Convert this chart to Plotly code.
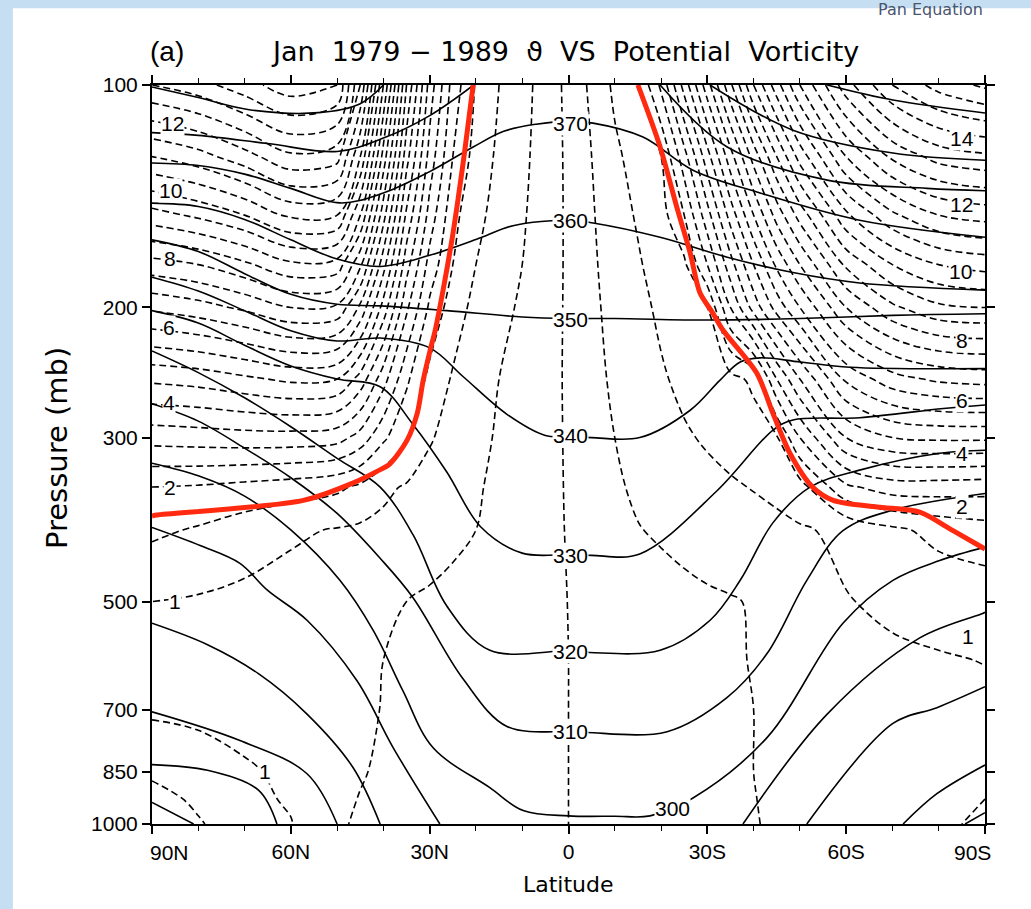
import math
import plotly.graph_objects as go

# ---------------- PV grid (PVU, SH negative) ----------------
PV_LAT = [90, 80, 70, 60, 50, 45, 40, 35, 30, 25, 20, 15, 10, 5,
          -5, -10, -15, -20, -25, -30, -35, -40, -45, -50, -60, -70, -80, -90]
PV_P = [1000, 925, 850, 700, 600, 500, 400, 350, 300, 250, 200, 175, 150, 125, 100]

PV_1000 = [2.0, 1.55, 1.2, 1.02, 0.53, 0.47, 0.42, 0.36, 0.3, 0.24, 0.19, 0.14, 0.09, 0.05,
           -0.05, -0.09, -0.14, -0.19, -0.24, -0.3, -0.38, -0.48, -0.55, -0.6, -0.7, -0.8, -0.9, -1.1]
PV_925 = [1.7, 1.4, 1.12, 0.95, 0.56, 0.49, 0.44, 0.38, 0.31, 0.25, 0.2, 0.15, 0.1, 0.05,
          -0.05, -0.1, -0.15, -0.2, -0.25, -0.31, -0.4, -0.49, -0.56, -0.61, -0.71, -0.8, -0.9, -1.0]
PV_850 = [1.4, 1.2, 1.05, 0.92, 0.6, 0.52, 0.46, 0.4, 0.33, 0.27, 0.22, 0.16, 0.1, 0.05,
          -0.05, -0.1, -0.16, -0.22, -0.27, -0.33, -0.42, -0.5, -0.57, -0.62, -0.72, -0.8, -0.85, -0.92]
PV_700 = [0.92, 0.9, 0.84, 0.76, 0.62, 0.55, 0.49, 0.43, 0.36, 0.3, 0.24, 0.18, 0.12, 0.06,
          -0.06, -0.12, -0.18, -0.24, -0.3, -0.36, -0.43, -0.5, -0.58, -0.64, -0.75, -0.82, -0.87, -0.92]
PV_600 = [0.88, 0.86, 0.82, 0.76, 0.64, 0.56, 0.5, 0.44, 0.38, 0.32, 0.26, 0.2, 0.13, 0.07,
          -0.07, -0.13, -0.2, -0.26, -0.32, -0.38, -0.45, -0.52, -0.62, -0.72, -0.85, -0.93, -0.97, -1.01]
PV_500 = [1.0, 0.95, 0.88, 0.82, 0.74, 0.66, 0.57, 0.5, 0.44, 0.38, 0.31, 0.24, 0.17, 0.09,
          -0.1, -0.18, -0.25, -0.32, -0.38, -0.43, -0.47, -0.53, -0.65, -0.8, -0.98, -1.08, -1.15, -1.2]
PV_400 = [1.6, 1.45, 1.25, 1.07, 0.97, 0.92, 0.88, 0.8, 0.7, 0.6, 0.5, 0.38, 0.27, 0.14,
          -0.2, -0.36, -0.48, -0.56, -0.64, -0.72, -0.78, -0.84, -0.9, -0.95, -1.1, -1.4, -1.65, -1.8]
PV_350 = [2.0, 1.95, 1.85, 1.75, 1.6, 1.4, 1.1, 0.95, 0.8, 0.66, 0.54, 0.42, 0.3, 0.16,
          -0.25, -0.43, -0.58, -0.7, -0.8, -0.88, -0.95, -1.02, -1.1, -1.3, -2.4, -2.75, -2.75, -2.7]
PV_300 = [3.2, 3.25, 3.3, 3.3, 3.2, 2.8, 2.1, 1.55, 1.05, 0.8, 0.62, 0.45, 0.32, 0.18,
          -0.3, -0.5, -0.68, -0.82, -0.95, -1.05, -1.15, -1.28, -1.45, -2.5, -4.0, -4.5, -4.6, -4.6]
PV_250 = [4.6, 4.7, 4.9, 5.1, 5.0, 4.3, 3.2, 2.1, 1.35, 0.95, 0.7, 0.5, 0.38, 0.2,
          -0.35, -0.58, -0.78, -0.95, -1.1, -1.22, -1.35, -1.6, -3.0, -4.0, -5.6, -6.3, -6.6, -6.7]
PV_200 = [6.6, 6.8, 7.1, 7.5, 7.4, 6.4, 4.8, 3.1, 1.9, 1.25, 0.85, 0.6, 0.45, 0.24,
          -0.4, -0.65, -0.88, -1.08, -1.27, -1.5, -3.0, -4.2, -5.2, -6.0, -7.5, -8.4, -8.9, -9.0]
PV_175 = [7.8, 8.0, 8.4, 8.9, 8.8, 7.6, 5.7, 3.7, 2.3, 1.5, 1.0, 0.7, 0.5, 0.26,
          -0.42, -0.72, -0.95, -1.2, -1.4, -2.5, -3.8, -5.0, -6.1, -7.0, -8.6, -9.5, -10.0, -10.2]
PV_150 = [9.3, 9.6, 10.0, 10.6, 10.5, 9.0, 6.7, 4.4, 2.8, 1.65, 1.15, 0.8, 0.55, 0.28,
          -0.45, -0.8, -1.05, -1.3, -2.0, -3.3, -4.7, -6.0, -7.2, -8.2, -9.9, -10.9, -11.5, -11.7]
PV_125 = [11.0, 11.3, 11.8, 12.4, 12.2, 10.5, 7.8, 5.2, 3.3, 2.0, 1.3, 0.9, 0.6, 0.3,
          -0.5, -0.9, -1.2, -1.5, -2.8, -4.3, -5.8, -7.2, -8.5, -9.7, -11.5, -12.6, -13.2, -13.4]
PV_100 = [13.0, 13.3, 13.8, 14.3, 14.0, 12.0, 9.0, 6.0, 3.8, 2.3, 1.45, 1.0, 0.65, 0.32,
          -0.6, -1.1, -1.5, -2.6, -4.2, -5.8, -7.4, -9.0, -10.3, -11.5, -13.3, -14.5, -15.2, -15.6]

# ---------------- Potential temperature contours (lat, p) ----------------
TH250_LAT = [90, 81];  TH250_P = [935, 1000]
TH260_LAT = [90, 78, 67, 63];  TH260_P = [831, 846, 900, 1000]
TH270_LAT = [90, 71, 56.5, 50];  TH270_P = [705, 771, 855, 1000]
TH280_LAT = [90, 78, 67, 56.5, 46.6, 40.7];  TH280_P = [535, 572, 626, 710, 838, 1000]
TH290_LAT = [90, 79.6, 71, 65, 56.5, 45.7, 37.9, 27.8];  TH290_P = [397, 420, 444, 483, 530, 640, 788, 1000]
TH300_LAT = [90, 80, 70, 60, 49.4, 42.2, 35.8, 29.3, 17, 9.8, 0, -10, -17.6, -26.9, -42.9, -59.3, -70.1, -80.2, -90]
TH300_P = [325, 338, 360, 400, 468, 547, 660, 788, 893, 959, 975, 976, 975, 922, 764, 535, 468, 440, 422]
TH310_LAT = [90, 80, 70, 60, 50, 40.7, 33.6, 22.8, 13.3, 0, -4, -21.3, -34.3, -42.9, -51.5, -59.3, -70.1, -90]
TH310_P = [270, 285, 310, 340, 380, 437, 494, 636, 738, 750, 752, 750, 674, 588, 468, 401, 376, 357]
TH320_LAT = [90, 80, 70, 60, 50, 40.7, 33.6, 26.3, 17, 0, -4.6, -19.8, -30.6, -37.1, -44.2, -52.2, -62.9, -80.2, -90]
TH320_P = [229, 245, 265, 290, 320, 350, 406, 507, 582, 583, 586, 582, 530, 468, 391, 350, 332, 315, 312]
TH330_LAT = [90, 80, 70, 60, 50, 40.7, 33.6, 26.3, 19, 10, 0, -5, -15.4, -32.1, -44.2, -48.5, -62.9, -81, -90]
TH330_P = [202, 210, 225, 240, 250, 256, 288, 334, 396, 430, 432, 433, 431, 354, 293, 284, 282, 274, 271]
TH340_LAT = [90, 80, 70, 60, 50, 40.7, 29.9, 22.8, 13.3, 5, 0, -5, -15.4, -26.3, -32.7, -37.1, -41.4, -50, -60.8, -90]
TH340_P = [182, 190, 202, 215, 222, 220, 227, 248, 279, 298, 299, 300, 300, 275.5, 251, 237, 234, 237, 241, 242]
TH350_LAT = [90, 80, 70, 60, 50, 40.7, 26.3, 10, 0, -10, -30, -50, -70, -90]
TH350_P = [162, 168, 180, 192, 198, 199, 202, 206, 207, 207, 208, 207, 205, 204]
TH360_LAT = [90, 80, 70, 60, 50, 40.7, 30, 19, 12, 0, -5.3, -19.8, -34.3, -48.5, -62.9, -90]
TH360_P = [144.5, 146, 152, 162, 172, 176, 170, 161, 155, 152.4, 153.7, 160.7, 171, 179.4, 185.3, 189.5]
TH370_LAT = [90, 80, 70, 60, 49.4, 40, 30, 20.6, 14, 7, 0, -5.3, -16.1, -26.9, -41.4, -62.9, -90]
TH370_P = [127.5, 128.5, 132, 138, 144.4, 140, 131, 121.3, 115.5, 113, 112, 112.6, 117.6, 130.4, 140, 152.4, 160.7]
TH380N_LAT = [90, 80, 65, 50, 40, 30, 20.5];  TH380N_P = [116, 117, 120, 123, 118, 110, 100]
TH380S_LAT = [-19.8, -34.3, -55.9, -77.5, -90];  TH380S_P = [100, 121.3, 134.5, 138, 139]
TH390N_LAT = [90, 80, 69, 54, 45, 40];  TH390N_P = [100.6, 104, 108, 109, 106, 100]
TH390S_LAT = [-30.6, -48.5, -70.1, -90];  TH390S_P = [100, 115.1, 123.6, 126.4]
TH400S_LAT = [-55.9, -70.1, -90];  TH400S_P = [100, 104.8, 109.1]
TH290S_LAT = [-37.7, -55.9, -75.9, -89.5, -90];  TH290S_P = [1000, 710, 560, 519, 517]
TH280S_LAT = [-51.5, -70.1, -79.6, -90];  TH280S_P = [1000, 731, 696, 652]
TH270S_LAT = [-72.3, -79.6, -90];  TH270S_P = [1000, 910, 832]
TH260S_LAT = [-85.7, -90];  TH260S_P = [1000, 965]

# labels of theta at the equator
TH_LABELS = ["370", "360", "350", "340", "330", "320", "310", "300"]
TH_LABEL_LAT = [-0.5, -0.5, -0.5, -0.5, -0.5, -0.5, -0.5, -22.4]
TH_LABEL_P = [112.6, 152.4, 207.5, 298.5, 433, 583.7, 750, 954]

# PV labels
PVN_LABELS = ["12", "10", "8", "6", "4", "2", "1", "1"]
PVN_LABEL_LAT = [85.5, 86, 86.1, 86.3, 86.3, 86.1, 85, 65.6]
PVN_LABEL_P = [112.6, 138.8, 171.5, 213, 269, 350, 500, 850]
PVS_LABELS = ["14", "12", "10", "8", "6", "4", "2", "1"]
PVS_LABEL_LAT = [-85, -85, -84.6, -85, -85, -85, -85, -86.3]
PVS_LABEL_P = [118, 145, 179, 222, 267, 315, 372, 558]

# tropopause (red line)
TROP_LAT = [90, 88.9, 57.3, 46.6, 41.4, 38.6, 34.9, 32.7, 31.4, 29.9, 28.8, 27.1, 25.2, 23.9, 22.4, 20.6]
TROP_P = [383, 381.9, 364.8, 345.6, 333.3, 325.5, 302.6, 278.4, 250.9, 228.5, 214.7, 189.5, 162.2, 143.2, 122.5, 100]
TROPS_LAT = [-15, -19.8, -23.4, -26.3, -28.4, -31.2, -33.4, -40.7, -44.2, -47.9, -52.8, -57.2, -66.7, -75.9, -83, -90]
TROPS_P = [100, 121.3, 146.3, 168.9, 191.1, 203.6, 214.7, 245.5, 278.4, 315.5, 350.3, 364.8, 372.5, 378.4, 400.6, 424.5]

X_MAJOR = [90, 60, 30, 0, -30, -60, -90]
X_MAJOR_TEXT = ["", "60N", "30N", "0", "30S", "60S", ""]
X_END_TEXT = ["90N", "90S"]
X_END_POS = [90, -90]
X_MINOR = [80, 70, 50, 40, 20, 10, -10, -20, -40, -50, -70, -80]
Y_TICKS = [100, 200, 300, 500, 700, 850, 1000]

fig = go.Figure()

fig.add_trace(go.Contour(
    x=PV_LAT, y=PV_P,
    z=[PV_1000, PV_925, PV_850, PV_700, PV_600, PV_500, PV_400, PV_350,
       PV_300, PV_250, PV_200, PV_175, PV_150, PV_125, PV_100],
    contours=dict(start=-16, end=16, size=0.5, coloring="lines", showlabels=False),
    colorscale=[[0, "black"], [1, "black"]],
    showscale=False,
    line=dict(width=1.6, dash="7px,4px", smoothing=1.0),
    hoverinfo="skip",
))

theta_lines = [
    (TH250_LAT, TH250_P), (TH260_LAT, TH260_P), (TH270_LAT, TH270_P), (TH280_LAT, TH280_P),
    (TH290_LAT, TH290_P), (TH300_LAT, TH300_P), (TH310_LAT, TH310_P), (TH320_LAT, TH320_P),
    (TH330_LAT, TH330_P), (TH340_LAT, TH340_P), (TH350_LAT, TH350_P), (TH360_LAT, TH360_P),
    (TH370_LAT, TH370_P), (TH380N_LAT, TH380N_P), (TH380S_LAT, TH380S_P),
    (TH390N_LAT, TH390N_P), (TH390S_LAT, TH390S_P), (TH400S_LAT, TH400S_P),
    (TH290S_LAT, TH290S_P), (TH280S_LAT, TH280S_P), (TH270S_LAT, TH270S_P), (TH260S_LAT, TH260S_P),
]
for la, pp in theta_lines:
    fig.add_trace(go.Scatter(x=la, y=pp, mode="lines",
                             line=dict(color="black", width=1.6, shape="spline", smoothing=1.0),
                             hoverinfo="skip", showlegend=False))

for la, pp in [(TROP_LAT, TROP_P), (TROPS_LAT, TROPS_P)]:
    fig.add_trace(go.Scatter(x=la, y=pp, mode="lines",
                             line=dict(color="#ff2a10", width=5, shape="spline", smoothing=0.8),
                             hoverinfo="skip", showlegend=False))

lab_font = dict(family="Liberation Sans, Arial, sans-serif", size=21, color="black")
for t, la, pp in zip(TH_LABELS, TH_LABEL_LAT, TH_LABEL_P):
    fig.add_annotation(x=la, y=math.log10(pp), text=t, showarrow=False, font=lab_font,
                       bgcolor="white", borderpad=0, xanchor="center", yanchor="middle")
for t, la, pp in zip(PVN_LABELS + PVS_LABELS, PVN_LABEL_LAT + PVS_LABEL_LAT, PVN_LABEL_P + PVS_LABEL_P):
    fig.add_annotation(x=la, y=math.log10(pp), text=t, showarrow=False, font=lab_font,
                       bgcolor="white", borderpad=0, xanchor="center", yanchor="middle")

# end labels of the latitude axis sit inside the frame, as in the original
tick_font = dict(family="Liberation Sans Narrow, Liberation Sans, Arial", size=21, color="black")
for t, la, sh in zip(X_END_TEXT, X_END_POS, [17, -13]):
    fig.add_annotation(x=la, xref="x", yref="paper", y=-0.0379, text=t, showarrow=False,
                       xanchor="center", yanchor="middle", xshift=sh, font=tick_font)

# page background: light blue frame with white sheet
fig.add_shape(type="rect", xref="paper", yref="paper", x0=-0.167, x1=1.06, y0=-0.12, y1=1.104,
              fillcolor="white", line=dict(width=0), layer="below")

fig.add_annotation(xref="paper", yref="paper", x=0.018, y=1.0447, text="(a)", showarrow=False,
                   xanchor="center", yanchor="middle",
                   font=dict(family="Liberation Sans, Arial", size=28, color="black"))
fig.add_annotation(xref="paper", yref="paper", x=0.4958, y=1.0447,
                   text="Jan  1979 − 1989  ϑ  VS  Potential  Vorticity", showarrow=False,
                   xanchor="center", yanchor="middle",
                   font=dict(family="DejaVu Sans, sans-serif", size=27, color="black"))
fig.add_annotation(xref="paper", yref="paper", x=-0.114, y=0.5088, text="Pressure (mb)",
                   textangle=-90, showarrow=False, yanchor="middle", xanchor="center",
                   font=dict(family="DejaVu Sans, sans-serif", size=29, color="black"))
fig.add_annotation(xref="paper", yref="paper", x=0.4994, y=-0.0825, text="Latitude",
                   showarrow=False, xanchor="center", yanchor="middle",
                   font=dict(family="DejaVu Sans, sans-serif", size=22, color="black"))
fig.add_annotation(xref="paper", yref="paper", x=0.934, y=1.1015, text="Pan Equation",
                   showarrow=False, xanchor="center", yanchor="middle",
                   font=dict(family="DejaVu Sans", size=16, color="#4a5570"))

fig.update_layout(
    width=1031, height=909, autosize=False,
    margin=dict(l=152, r=46, t=85, b=85),
    paper_bgcolor="#c6def2", plot_bgcolor="white",
    showlegend=False,
    xaxis=dict(range=[90, -90], tickvals=X_MAJOR, ticktext=X_MAJOR_TEXT,
               ticks="outside", ticklen=8, tickwidth=1.5, tickcolor="black",
               minor=dict(tickvals=X_MINOR, ticks="outside", ticklen=5, tickwidth=1.2, tickcolor="black"),
               showline=True, linecolor="black", linewidth=2, mirror="ticks",
               showgrid=False, zeroline=False, tickfont=tick_font),
    yaxis=dict(type="log", range=[3, 2], tickvals=Y_TICKS, ticktext=[str(v) for v in Y_TICKS],
               ticks="outside", ticklen=8, tickwidth=1.5, tickcolor="black",
               showline=True, linecolor="black", linewidth=2, mirror="ticks",
               showgrid=False, zeroline=False,
               tickfont=dict(family="Liberation Sans, Arial", size=21, color="black")),
)

fig.write_html("out.html", config={"displayModeBar": False},
               post_script="document.body.style.margin='0px';document.body.style.background='#c6def2';")
